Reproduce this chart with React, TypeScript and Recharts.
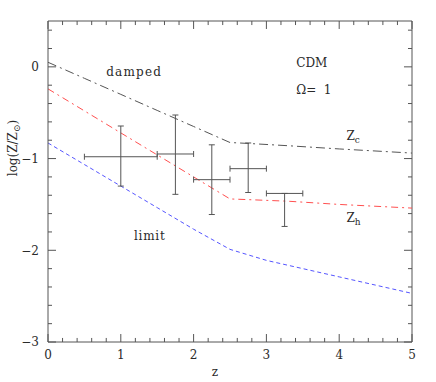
import React from 'react';
import { ComposedChart, Line, Scatter, ErrorBar, XAxis, YAxis, ReferenceDot, ReferenceLine } from 'recharts';

// model curves: log metallicity vs redshift
const zcZ = [0, 0.5, 1, 1.5, 2, 2.5, 2.75, 3.3, 4, 5];
const zcLog = [0.05, -0.125, -0.3, -0.475, -0.65, -0.825, -0.835, -0.86, -0.895, -0.94];

const zhZ = [0, 0.5, 1, 1.5, 2, 2.5, 3.3, 4, 5];
const zhLog = [-0.24, -0.48, -0.72, -0.96, -1.2, -1.44, -1.465, -1.5, -1.54];

const limZ = [0, 0.5, 1, 1.5, 2, 2.5, 3, 3.5, 4, 4.5, 5];
const limLog = [-0.83, -1.065, -1.3, -1.535, -1.77, -1.99, -2.11, -2.2, -2.29, -2.38, -2.47];

// damped Lyman-alpha measurements
const obsZ = [1.0, 1.75, 2.25, 2.75, 3.25];
const obsLog = [-0.98, -0.95, -1.23, -1.11, -1.38];
const obsZErr = [[0.5, 0.5], [0.25, 0.25], [0.25, 0.25], [0.25, 0.25], [0.25, 0.25]];
const obsLogErr = [[0.32, 0.335], [0.44, 0.425], [0.38, 0.38], [0.26, 0.28], [0.36, 0]];

const xMajor = [0, 1, 2, 3, 4, 5];
const yMajor = [-3, -2, -1, 0];
const xTicks = [0, 0.2, 0.4, 0.6, 0.8, 1, 1.2, 1.4, 1.6, 1.8, 2, 2.2, 2.4, 2.6, 2.8, 3, 3.2, 3.4, 3.6, 3.8, 4, 4.2, 4.4, 4.6, 4.8, 5];
const yTicks = [-3, -2.8, -2.6, -2.4, -2.2, -2, -1.8, -1.6, -1.4, -1.2, -1, -0.8, -0.6, -0.4, -0.2, 0, 0.2, 0.4];

const X0 = 0, X1 = 5, Y0 = -3, Y1 = 0.5;

const zcData = zcZ.map((z, i) => ({ z, v: zcLog[i] }));
const zhData = zhZ.map((z, i) => ({ z, v: zhLog[i] }));
const limData = limZ.map((z, i) => ({ z, v: limLog[i] }));
const obsData = obsZ.map((z, i) => ({ z, v: obsLog[i], ez: obsZErr[i], ev: obsLogErr[i] }));

const isMajor = (v: number) => Math.abs(v - Math.round(v)) < 1e-6;
// inward tick lengths in data units (about 8px major, 4px minor)
const xLen = (v: number) => (isMajor(v) ? 0.11 : 0.055);
const yLen = (v: number) => (isMajor(v) ? 0.087 : 0.044);

// tick marks as broken polylines (null breaks the path between ticks)
const bottomTicks = xTicks.flatMap((t) => [{ z: t, v: Y0 }, { z: t, v: Y0 + yLen(t) }, { z: t, v: null }]);
const topTicks = xTicks.flatMap((t) => [{ z: t, v: Y1 }, { z: t, v: Y1 - yLen(t) }, { z: t, v: null }]);
const leftTicks = yTicks.flatMap((t) => [{ z: X0, v: t }, { z: X0 + xLen(t), v: t }, { z: X0 + xLen(t), v: null }]);
const rightTicks = yTicks.flatMap((t) => [{ z: X1, v: t }, { z: X1 - xLen(t), v: t }, { z: X1 - xLen(t), v: null }]);

const FRAME = '#555';
const INK = '#2a2a2a';
const FONT = '"DejaVu Serif", "Liberation Serif", serif';

const fmt = (v: number) => (v < 0 ? '\u2212' + Math.abs(v) : String(v));

const note = (text: string, sub?: string, spacing = 0) => (p: any) => {
  const { x, y } = p.viewBox;
  return (
    <text x={x} y={y} fontSize={12} fontFamily={FONT} fill={INK} letterSpacing={spacing}>
      {text}
      {sub && (
        <tspan dy={3} fontSize={9}>
          {sub}
        </tspan>
      )}
    </text>
  );
};

const tickStyle = { fontSize: 12, fontFamily: FONT, fill: INK };
const tickLineProps = { stroke: FRAME, strokeWidth: 1, dot: false, activeDot: false, isAnimationActive: false, connectNulls: false, type: 'linear' as const };

export default function App() {
  return (
    <div style={{ position: 'absolute', left: 0, top: 0 }}>
      <ComposedChart width={436} height={382} margin={{ top: 21, right: 24, bottom: 0, left: 0 }}>
        <XAxis
          dataKey="z"
          type="number"
          domain={[X0, X1]}
          ticks={xMajor}
          interval={0}
          height={40}
          tickSize={0}
          tickMargin={8}
          tickLine={false}
          axisLine={{ stroke: FRAME }}
          tick={tickStyle}
          tickFormatter={fmt}
        />
        <YAxis
          type="number"
          domain={[Y0, Y1]}
          ticks={yMajor}
          interval={0}
          width={48}
          tickSize={0}
          tickMargin={9}
          tickLine={false}
          axisLine={{ stroke: FRAME }}
          tick={tickStyle}
          tickFormatter={fmt}
        />
        <ReferenceLine y={Y1} stroke={FRAME} />
        <ReferenceLine x={X1} stroke={FRAME} />

        <Line data={bottomTicks} dataKey="v" {...tickLineProps} />
        <Line data={topTicks} dataKey="v" {...tickLineProps} />
        <Line data={leftTicks} dataKey="v" {...tickLineProps} />
        <Line data={rightTicks} dataKey="v" {...tickLineProps} />

        <Line data={zcData} dataKey="v" type="linear" stroke="#555" strokeWidth={1} strokeDasharray="9 4 2 4" dot={false} isAnimationActive={false} />
        <Line data={zhData} dataKey="v" type="linear" stroke="#ff5050" strokeWidth={1} strokeDasharray="7 4 2 4" dot={false} isAnimationActive={false} />
        <Line data={limData} dataKey="v" type="linear" stroke="#5555ff" strokeWidth={1} strokeDasharray="4 3" dot={false} isAnimationActive={false} />

        <Scatter data={obsData} dataKey="v" shape={() => <g />} isAnimationActive={false}>
          <ErrorBar dataKey="ez" direction="x" width={3} stroke="#555" strokeWidth={1} isAnimationActive={false} />
          <ErrorBar dataKey="ev" direction="y" width={3} stroke="#555" strokeWidth={1} isAnimationActive={false} />
        </Scatter>

        <ReferenceDot x={0.8} y={-0.1} r={0} fill="none" stroke="none" label={note('damped', undefined, 1.2)} />
        <ReferenceDot x={3.41} y={0} r={0} fill="none" stroke="none" label={note('CDM')} />
        <ReferenceDot x={3.41} y={-0.3} r={0} fill="none" stroke="none" label={note('\u03a9=\u00a0\u00a01')} />
        <ReferenceDot x={4.1} y={-0.8} r={0} fill="none" stroke="none" label={note('Z', 'c')} />
        <ReferenceDot x={4.1} y={-1.69} r={0} fill="none" stroke="none" label={note('Z', 'h')} />
        <ReferenceDot x={1.18} y={-1.89} r={0} fill="none" stroke="none" label={note('limit', undefined, 0.8)} />

        <text x={215} y={376} textAnchor="middle" fontSize={12} fontFamily={FONT} fill={INK}>
          z
        </text>
        <text x={17} y={148} textAnchor="middle" fontSize={12} fontFamily={FONT} fill={INK} transform="rotate(-90, 17, 148)">
          log(Z/Z
          <tspan dy={3} fontSize={9}>{'\u2299'}</tspan>
          <tspan dy={-3}>)</tspan>
        </text>
      </ComposedChart>
    </div>
  );
}
